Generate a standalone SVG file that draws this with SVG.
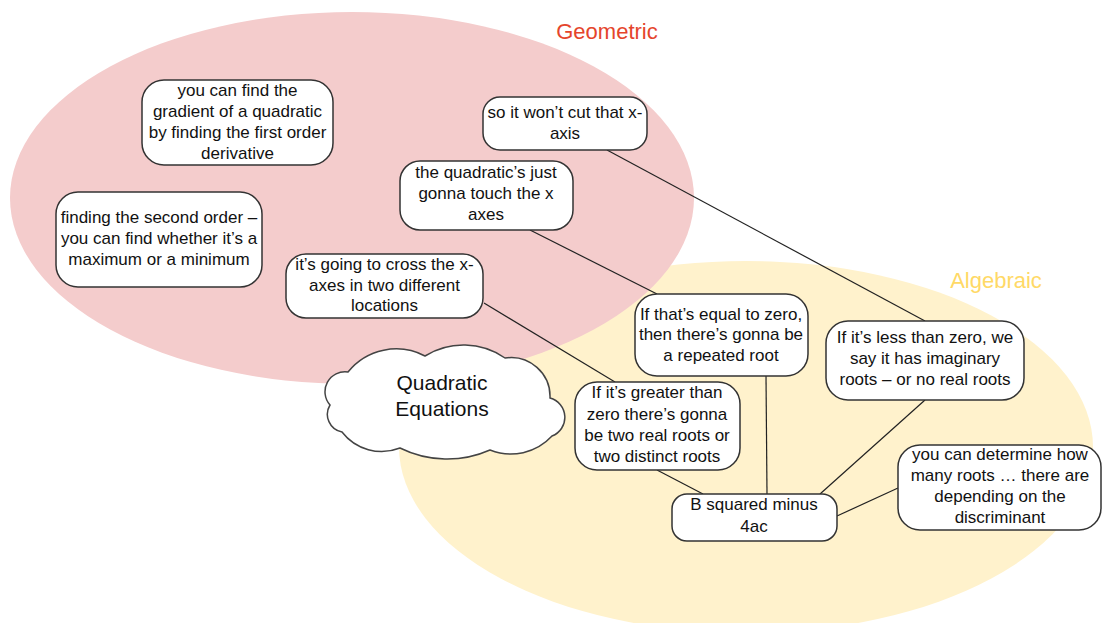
<svg xmlns="http://www.w3.org/2000/svg" width="1103" height="623" viewBox="0 0 1103 623">
<style>
.node rect{fill:#fff;stroke:#333;stroke-width:1.5}
.node text{font-family:"Liberation Sans",Arial,sans-serif;font-size:17px;fill:#111;text-anchor:middle}
.conn line{stroke:#222;stroke-width:1.2}
.region{font-family:"Liberation Sans",Arial,sans-serif;font-size:22px;text-anchor:middle}
</style>
<rect width="1103" height="623" fill="#fff"/>
<g id="regions">
<ellipse id="algebraic-region" cx="746" cy="447" rx="347" ry="186" fill="#FFF2CC"/>
<ellipse id="geometric-region" cx="352" cy="198" rx="342" ry="186" fill="#F4CCCC"/>
<text class="region" x="607" y="39" fill="#E5452C">Geometric</text>
<text class="region" x="996" y="288" fill="#FFD966">Algebraic</text>
</g>
<g id="connectors" class="conn">
<line x1="607" y1="150" x2="925" y2="321"/>
<line x1="530" y1="230" x2="657" y2="294"/>
<line x1="484" y1="303" x2="615" y2="382"/>
<line x1="766" y1="376" x2="767" y2="494"/>
<line x1="657" y1="470" x2="703" y2="494"/>
<line x1="925" y1="400" x2="820" y2="494"/>
<line x1="837" y1="516" x2="898" y2="488"/>
</g>
<g id="quadratic-equations">
<path d="M330,405 A20,20 0 0,1 348,372 A62,62 0 0,1 425,356 A73,73 0 0,1 505,358 A39,39 0 0,1 550,398 A20,20 0 0,1 552,436 A56,56 0 0,1 490,450 A106,106 0 0,1 400,448 A50,50 0 0,1 342,432 A18,18 0 0,1 330,405 Z" fill="#fff" stroke="#444" stroke-width="1.5"/>
<text x="442" y="390" font-family="Liberation Sans, Arial, sans-serif" font-size="21" fill="#111" text-anchor="middle">Quadratic</text>
<text x="442" y="416" font-family="Liberation Sans, Arial, sans-serif" font-size="21" fill="#111" text-anchor="middle">Equations</text>
</g>
<g id="gradient" class="node">
<rect x="142" y="80" width="191" height="85" rx="22"/>
<text x="237.5" y="96">you can find the</text>
<text x="237.5" y="117">gradient of a quadratic</text>
<text x="237.5" y="138">by finding the first order</text>
<text x="237.5" y="159">derivative</text>
</g>
<g id="wont-cut" class="node">
<rect x="483" y="97" width="164" height="53" rx="17"/>
<text x="565" y="118">so it won’t cut that x-</text>
<text x="565" y="139">axis</text>
</g>
<g id="touch" class="node">
<rect x="400" y="161" width="173" height="69" rx="20"/>
<text x="486" y="178">the quadratic’s just</text>
<text x="486" y="199">gonna touch the x</text>
<text x="486" y="220">axes</text>
</g>
<g id="second-order" class="node">
<rect x="56" y="192" width="206" height="95" rx="22"/>
<text x="159" y="223">finding the second order –</text>
<text x="159" y="244">you can find whether it’s a</text>
<text x="159" y="265">maximum or a minimum</text>
</g>
<g id="cross" class="node">
<rect x="286" y="254" width="197" height="64" rx="20"/>
<text x="384.5" y="270">it’s going to cross the x-</text>
<text x="384.5" y="291">axes in two different</text>
<text x="384.5" y="311">locations</text>
</g>
<g id="equal-zero" class="node">
<rect x="635" y="294" width="173" height="82" rx="22"/>
<text x="721" y="320">If that’s equal to zero,</text>
<text x="721" y="340">then there’s gonna be</text>
<text x="721" y="361">a repeated root</text>
</g>
<g id="greater-zero" class="node">
<rect x="575" y="382" width="165" height="88" rx="22"/>
<text x="657" y="398">If it’s greater than</text>
<text x="657" y="420">zero there’s gonna</text>
<text x="657" y="441">be two real roots or</text>
<text x="657" y="462">two distinct roots</text>
</g>
<g id="discriminant" class="node">
<rect x="672" y="494" width="165" height="47" rx="15"/>
<text x="754" y="510">B squared minus</text>
<text x="754" y="532">4ac</text>
</g>
<g id="less-zero" class="node">
<rect x="826" y="321" width="198" height="79" rx="22"/>
<text x="925" y="343">If it’s less than zero, we</text>
<text x="925" y="364">say it has imaginary</text>
<text x="925" y="385">roots – or no real roots</text>
</g>
<g id="how-many" class="node">
<rect x="898" y="445" width="203" height="85" rx="22"/>
<text x="1000" y="460">you can determine how</text>
<text x="1000" y="481">many roots … there are</text>
<text x="1000" y="502">depending on the</text>
<text x="1000" y="523">discriminant</text>
</g>
</svg>
